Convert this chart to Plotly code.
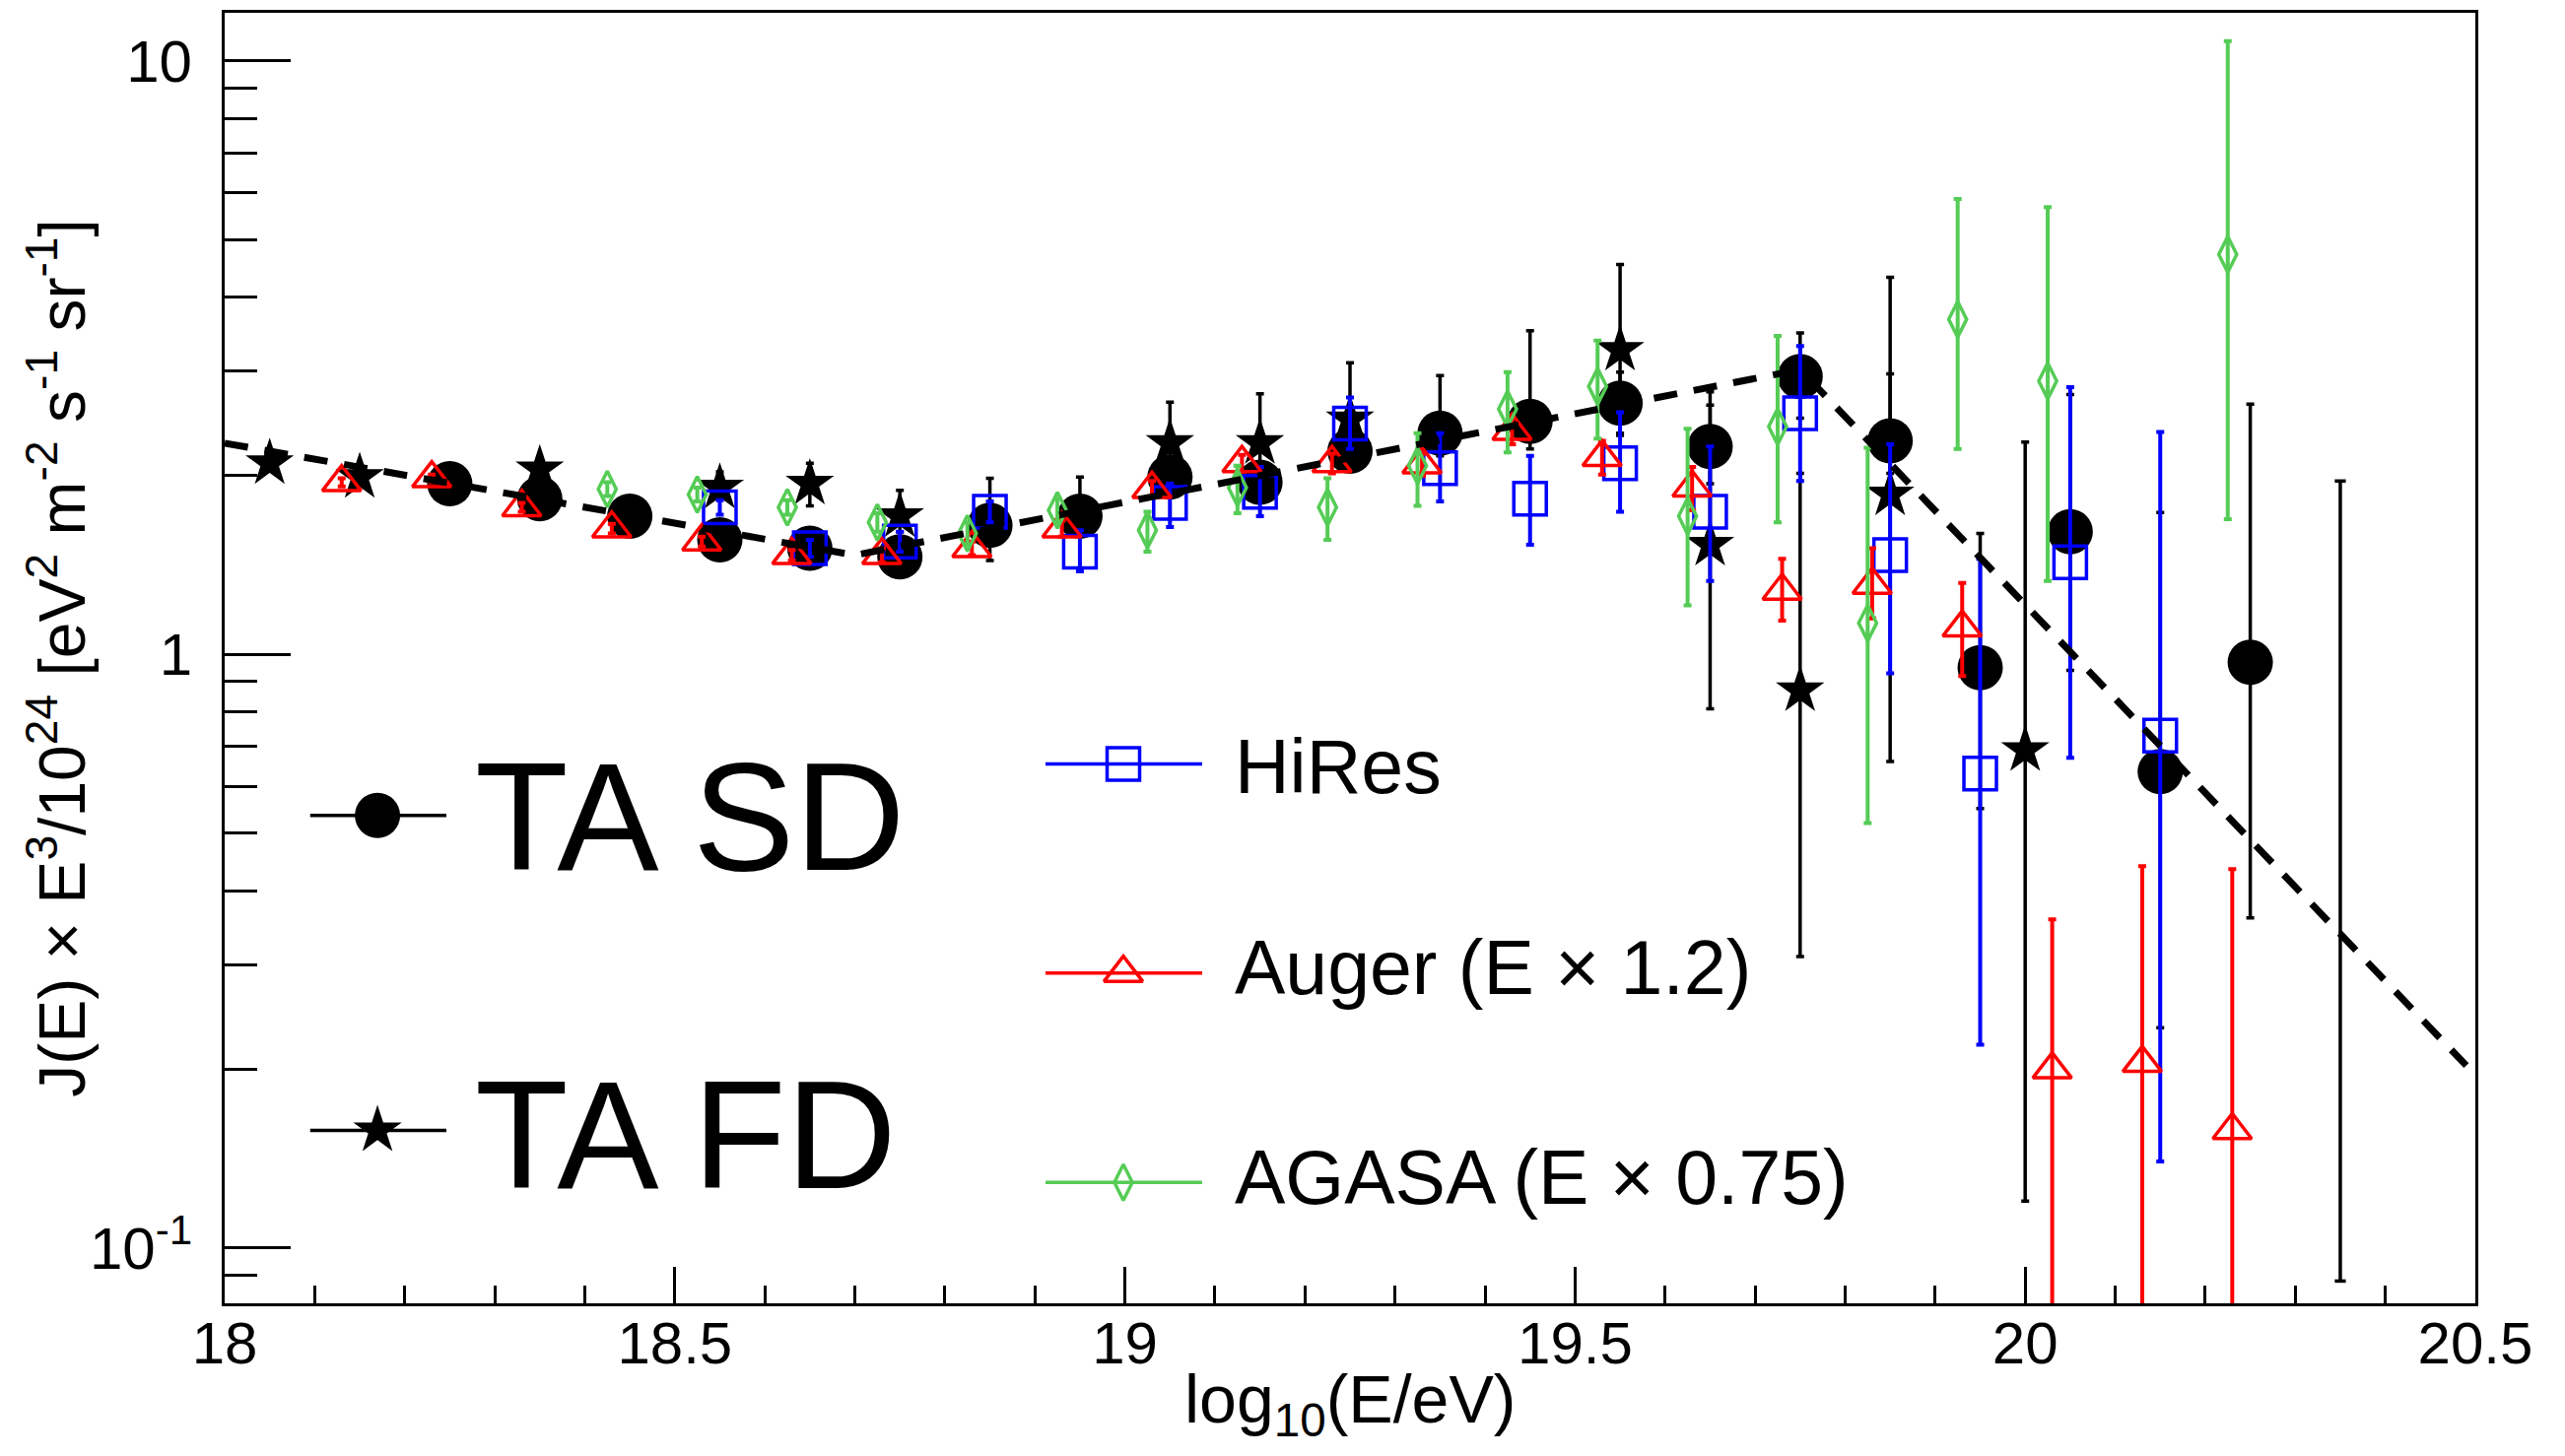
import plotly.graph_objects as go

# TA SD (filled circles)
sd_logE = [18.25, 18.35, 18.45, 18.55, 18.65, 18.75, 18.85, 18.95, 19.05, 19.15, 19.25,
           19.35, 19.45, 19.55, 19.65, 19.75, 19.85, 19.95, 20.05, 20.15, 20.25]
sd_flux = [1.94, 1.83, 1.71, 1.56, 1.51, 1.46, 1.65, 1.71, 1.99, 1.95, 2.20,
           2.36, 2.47, 2.65, 2.24, 2.94, 2.29, 0.95, 1.61, 0.635, 0.97]
sd_err_hi = [0.03, 0.03, 0.04, 0.04, 0.04, 0.05, 0.33, 0.28, 0.08, 0.10, 0.12,
             0.59, 1.04, 0.34, 0.53, 0.54, 0.68, 0.65, 1.13, 1.10, 1.67]
sd_err_lo = [0.03, 0.03, 0.04, 0.04, 0.04, 0.05, 0.21, 0.08, 0.08, 0.10, 0.12,
             0.20, 0.25, 0.31, 0.30, 0.44, 0.27, 0.40, 0.67, 0.40, 0.61]

# TA FD (stars)
fd_logE = [18.05, 18.15, 18.35, 18.55, 18.65, 18.75, 19.05, 19.15, 19.25, 19.55, 19.65, 19.75, 19.85, 20.0]
fd_flux = [2.10, 1.99, 2.05, 1.91, 1.94, 1.71, 2.27, 2.27, 2.49, 3.26, 1.53, 0.87, 1.86, 0.69]
fd_err_hi = [0.05, 0.05, 0.06, 0.12, 0.16, 0.18, 0.39, 0.48, 0.61, 1.28, 1.10, 1.15, 2.46, 1.59]
fd_err_lo = [0.05, 0.05, 0.06, 0.08, 0.16, 0.10, 0.20, 0.25, 0.30, 0.90, 0.72, 0.56, 1.20, 0.57]
# FD bin with no point drawn, only its error range
fd_limit_logE = [20.35, 20.35]
fd_limit_flux = [0.088, 1.96]

# HiRes (open squares)
hires_logE = [18.55, 18.65, 18.75, 18.85, 18.95, 19.05, 19.15, 19.25, 19.35,
              19.45, 19.55, 19.65, 19.75, 19.85, 19.95, 20.05, 20.15]
hires_flux = [1.77, 1.51, 1.55, 1.74, 1.49, 1.80, 1.88, 2.45, 2.06,
              1.83, 2.10, 1.74, 2.55, 1.47, 0.63, 1.43, 0.73]
hires_err_hi = [0.05, 0.05, 0.06, 0.07, 0.13, 0.14, 0.19, 0.26, 0.30,
                0.33, 0.46, 0.50, 0.76, 0.79, 0.82, 1.39, 1.64]
hires_err_lo = [0.05, 0.05, 0.06, 0.07, 0.11, 0.16, 0.17, 0.23, 0.25,
                0.30, 0.36, 0.41, 0.59, 0.54, 0.41, 0.76, 0.59]

# Auger, energy scaled by 1.2 (open triangles)
auger_logE = [18.13, 18.23, 18.33, 18.43, 18.53, 18.63, 18.73, 18.83, 18.93, 19.03, 19.13,
              19.23, 19.33, 19.43, 19.53, 19.63, 19.73, 19.83, 19.93, 20.03, 20.13, 20.23]
auger_flux = [1.95, 1.98, 1.77, 1.63, 1.55, 1.47, 1.47, 1.51, 1.63, 1.90, 2.10,
              2.10, 2.09, 2.38, 2.15, 1.91, 1.28, 1.31, 1.11, 0.200, 0.205, 0.158]
auger_err_hi = [0.03, 0.03, 0.03, 0.03, 0.03, 0.03, 0.04, 0.04, 0.05, 0.06, 0.07,
                0.08, 0.09, 0.12, 0.14, 0.16, 0.17, 0.20, 0.21, 0.158, 0.235, 0.277]
auger_err_lo = [0.03, 0.03, 0.03, 0.03, 0.03, 0.03, 0.04, 0.04, 0.05, 0.06, 0.07,
                0.08, 0.09, 0.12, 0.14, 0.16, 0.14, 0.16, 0.19, 0.1999, 0.2049, 0.1579]

# AGASA, energy scaled by 0.75 (open diamonds)
agasa_logE = [18.425, 18.525, 18.625, 18.725, 18.825, 18.925, 19.025, 19.125, 19.225,
              19.325, 19.425, 19.525, 19.625, 19.725, 19.825, 19.925, 20.025, 20.225]
agasa_flux = [1.90, 1.86, 1.77, 1.67, 1.60, 1.75, 1.62, 1.91, 1.77,
              2.08, 2.59, 2.83, 1.71, 2.42, 1.13, 3.67, 2.89, 4.72]
agasa_err_hi = [0.05, 0.05, 0.05, 0.06, 0.07, 0.08, 0.12, 0.17, 0.21,
                0.28, 0.40, 0.55, 0.69, 1.02, 1.10, 2.18, 2.78, 6.08]
agasa_err_lo = [0.05, 0.05, 0.05, 0.06, 0.07, 0.08, 0.13, 0.18, 0.21,
                0.30, 0.40, 0.52, 0.50, 0.75, 0.61, 1.45, 1.56, 3.03]

# broken power law fit (dashed)
fit_logE = [18.0, 18.70, 19.75, 20.49]
fit_flux = [2.27, 1.47, 3.02, 0.203]

x_ticks = [18, 18.5, 19, 19.5, 20, 20.5]
x_tick_text = ["18", "18.5", "19", "19.5", "20", "20.5"]
y_ticks = [0.1, 1, 10]
y_tick_text = ["10<sup>-1</sup>", "1", "10"]
y_minor = [0.09, 0.2, 0.3, 0.4, 0.5, 0.6, 0.7, 0.8, 0.9, 2, 3, 4, 5, 6, 7, 8, 9]

FONT = "Liberation Sans, Arial, Helvetica, sans-serif"
GREEN = "#55cc55"

fig = go.Figure()


def add_points(x, y, hi, lo, name, symbol, size, color, lw, bar_w):
    fig.add_trace(go.Scatter(
        x=x, y=y, mode="markers", name=name, showlegend=False,
        marker=dict(symbol=symbol, size=size, color=color, line=dict(color=color, width=lw)),
        error_y=dict(type="data", symmetric=False, array=hi, arrayminus=lo,
                     color=color, thickness=bar_w, width=4),
    ))


add_points(sd_logE, sd_flux, sd_err_hi, sd_err_lo, "TA SD", "circle", 46, "black", 0, 3.5)
add_points(fd_logE, fd_flux, fd_err_hi, fd_err_lo, "TA FD", "star", 37, "black", 0, 3.5)
fig.add_trace(go.Scatter(
    x=fd_limit_logE, y=fd_limit_flux, mode="lines+markers", showlegend=False,
    line=dict(color="black", width=3.5),
    marker=dict(symbol="line-ew-open", size=8, line=dict(color="black", width=3.5)),
))
add_points(hires_logE, hires_flux, hires_err_hi, hires_err_lo, "HiRes", "square-open", 33, "blue", 3.5, 4)
add_points(auger_logE, auger_flux, auger_err_hi, auger_err_lo, "Auger", "triangle-up-open", 34, "red", 3.5, 4)
add_points(agasa_logE, agasa_flux, agasa_err_hi, agasa_err_lo, "AGASA", "diamond-tall-open", 26, GREEN, 3.5, 4)

fig.add_trace(go.Scatter(
    x=fit_logE, y=fit_flux, mode="lines", showlegend=False,
    line=dict(color="black", width=7, dash="24px,17px"),
))

# hand-drawn legend on an overlay axis spanning the plot area (0..1)
legend_rows = [
    ("TA SD", "circle", 46, "black", 0, 0.038, 0.0985, 0.0679, 0.378, 0.1103, 0.377, 155),
    ("TA FD", "star", 37, "black", 0, 0.038, 0.0985, 0.0679, 0.134, 0.1103, 0.130, 155),
    ("HiRes", "square-open", 33, "blue", 3.5, 0.3647, 0.4343, 0.3993, 0.418, 0.4479, 0.416, 77),
    ("Auger (E × 1.2)", "triangle-up-open", 34, "red", 3.5, 0.3647, 0.4343, 0.3993, 0.256, 0.4479, 0.260, 77),
    ("AGASA (E × 0.75)", "diamond-tall-open", 26, GREEN, 3.5, 0.3647, 0.4343, 0.3993, 0.0937, 0.4479, 0.098, 77),
]
for label, sym, size, color, lw, x0, x1, xm, yl, xt, yt, fs in legend_rows:
    fig.add_trace(go.Scatter(
        x=[x0, x1], y=[yl, yl], xaxis="x2", yaxis="y2", mode="lines", showlegend=False,
        line=dict(color=color, width=3.5),
    ))
    fig.add_trace(go.Scatter(
        x=[xm], y=[yl], xaxis="x2", yaxis="y2", mode="markers", showlegend=False,
        marker=dict(symbol=sym, size=size, color=color, line=dict(color=color, width=lw)),
    ))
    fig.add_annotation(
        text=label, x=xt, y=yt, xref="x2", yref="y2", xanchor="left", yanchor="middle",
        showarrow=False, font=dict(family=FONT, size=fs, color="black"),
    )

# axis titles
fig.add_annotation(
    text="log<sub>10</sub>(E/eV)", x=0.5, y=-0.078, xref="paper", yref="paper",
    xanchor="center", yanchor="middle", showarrow=False,
    font=dict(family=FONT, size=68, color="black"),
)
fig.add_annotation(
    text="J(E) × E<sup>3</sup>/10<sup>24</sup> [eV<sup>2</sup> m<sup>-2</sup> s<sup>-1</sup> sr<sup>-1</sup>]",
    x=-0.0745, y=0.5, xref="paper", yref="paper", textangle=-90,
    xanchor="center", yanchor="middle", showarrow=False,
    font=dict(family=FONT, size=66, color="black"),
)

fig.update_layout(
    width=2603, height=1478,
    margin=dict(l=228, r=91, t=10, b=155),
    paper_bgcolor="white", plot_bgcolor="white",
    font=dict(family=FONT, color="black"),
    xaxis=dict(
        range=[18, 20.5], tickmode="array", tickvals=x_ticks, ticktext=x_tick_text,
        ticks="inside", ticklen=37, tickwidth=3, tickcolor="black",
        minor=dict(dtick=0.1, tick0=18, ticks="inside", ticklen=18, tickwidth=3, tickcolor="black"),
        showline=True, linewidth=3, linecolor="black", mirror=True,
        showgrid=False, zeroline=False, tickfont=dict(size=60), ticklabelstandoff=-14,
    ),
    yaxis=dict(
        type="log", range=[-1.093, 1.081], tickmode="array", tickvals=y_ticks, ticktext=y_tick_text,
        ticks="inside", ticklen=67, tickwidth=3, tickcolor="black",
        minor=dict(tickmode="array", tickvals=y_minor, ticks="inside", ticklen=33, tickwidth=3,
                   tickcolor="black"),
        showline=True, linewidth=3, linecolor="black", mirror=True,
        showgrid=False, zeroline=False, tickfont=dict(size=60), ticklabelstandoff=18,
    ),
    xaxis2=dict(overlaying="x", range=[0, 1], visible=False),
    yaxis2=dict(overlaying="y", range=[0, 1], visible=False),
)

fig.write_html(
    "out.html",
    config={"displayModeBar": False},
    post_script="document.body.style.margin='0px';document.body.style.overflow='hidden';",
)
